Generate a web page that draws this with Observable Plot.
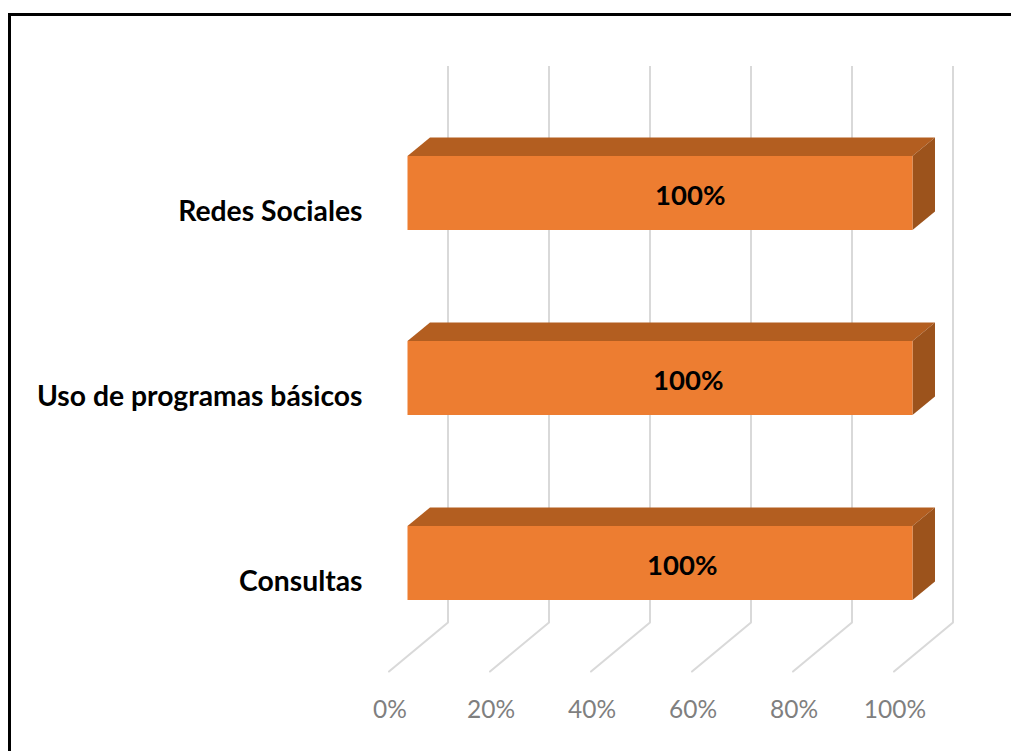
<!DOCTYPE html>
<html lang="es">
<head>
<meta charset="utf-8">
<script src="https://cdn.jsdelivr.net/npm/d3@7"></script>
<script src="https://cdn.jsdelivr.net/npm/@observablehq/plot@0.6"></script>
<style>
html,body{margin:0;padding:0;background:#fff;overflow:hidden}
#wrap{position:relative;width:1011px;height:751px}
#frame{position:absolute;left:8px;top:13px;right:0;bottom:0;border-top:3px solid #000;border-left:3px solid #000;pointer-events:none}
svg{display:block}
</style>
</head>
<body>
<div id="wrap"><div id="chart"></div><div id="frame"></div></div>
<script>
const categories = ["Redes Sociales", "Uso de programas básicos", "Consultas"];
const values = [100, 100, 100];
const labelPositions = [55.9, 55.5, 54.3];
const ticks = [0, 20, 40, 60, 80, 100];

const rows = categories.map((c, i) => ({category: c, value: values[i], labelX: labelPositions[i]}));

const depthX = 22.5, depthY = 18.5;      // bar extrusion
const wallX = 40;                        // back wall offset
const floorX = 59, floorY = 49;          // floor line run

// Replace each rect of a bar mark with a sheared face of the 3D bar
function face(shape) {
  return function (index, scales, values, dimensions, context, next) {
    const g = next(index, scales, values, dimensions, context);
    d3.select(g).selectAll("rect").each(function () {
      const x = +this.getAttribute("x"), y = +this.getAttribute("y");
      const w = +this.getAttribute("width"), h = +this.getAttribute("height");
      const path = document.createElementNS("http://www.w3.org/2000/svg", "path");
      for (const a of this.attributes) if (!["x", "y", "width", "height"].includes(a.name)) path.setAttribute(a.name, a.value);
      path.setAttribute("d", d3.line()(shape(x, y, w, h)) + "Z");
      this.replaceWith(path);
    });
    return g;
  };
}

const topFace = (x, y, w) => [[x, y], [x + depthX, y - depthY], [x + w + depthX, y - depthY], [x + w, y]];
const sideFace = (x, y, w, h) => [[x + w, y], [x + w + depthX, y - depthY], [x + w + depthX, y + h - depthY], [x + w, y + h]];

const floorLine = {
  draw(ctx, l) { ctx.moveTo(0, 0); ctx.lineTo(-floorX, floorY); }
};

const plot = Plot.plot({
  width: 1011,
  height: 751,
  marginTop: 45,
  marginBottom: 40,
  marginLeft: 407.5,
  marginRight: 98.5,
  style: {background: "transparent", fontFamily: "Lato, sans-serif"},
  x: {domain: [0, 100], label: null},
  y: {domain: categories, padding: 0.6, label: null},
  marks: [
    Plot.ruleX(ticks, {x: d => d, dx: wallX, insetTop: 21, insetBottom: 89, stroke: "#d9d9d9", strokeWidth: 2}),
    Plot.vector(ticks, {x: d => d, frameAnchor: "bottom", dx: wallX, dy: -89, anchor: "start", length: 1, shape: floorLine, stroke: "#d9d9d9", strokeWidth: 2}),
    Plot.barX(rows, {x: "value", y: "category", fill: "#b35e20", render: face(topFace)}),
    Plot.barX(rows, {x: "value", y: "category", fill: "#9c531c", render: face(sideFace)}),
    Plot.barX(rows, {x: "value", y: "category", fill: "#ed7d31"}),
    Plot.text(rows, {x: "labelX", y: "category", text: d => d.value + "%", dy: 3, fontSize: 27.5, fontWeight: 700, fill: "#000"}),
    Plot.axisY({tickSize: 0, tickPadding: 45.5, dy: 18, fontSize: 28.3, fontWeight: 700, fill: "#000", label: null}),
    Plot.axisX({ticks, tickSize: 0, tickFormat: d => d + "%", dx: -18, dy: -20, fontSize: 24.5, fill: "#7f7f7f", label: null})
  ]
});
document.getElementById("chart").append(plot);
</script>
</body>
</html>
